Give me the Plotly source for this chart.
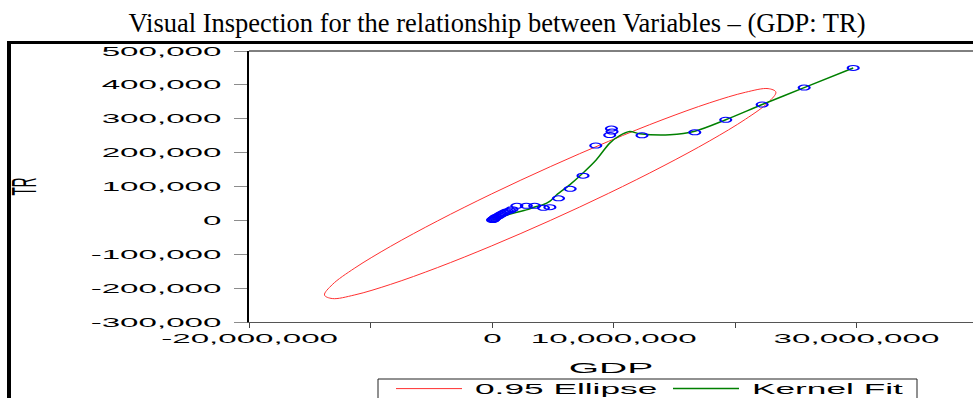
import plotly.graph_objects as go

# ---------------- data ----------------
gdp = [29.73e6, 25.69e6, 22.23e6, 19.23e6, 16.68e6, 12.33e6, 9.81e6, 9.86e6, 9.67e6,
       8.52e6, 7.47e6, 6.41e6, 5.45e6, 4.74e6, 4.21e6, 3.49e6, 2.80e6, 2.02e6,
       1.62e6, 1.45e6, 1.25e6, 1.10e6, 0.95e6, 0.80e6, 0.68e6, 0.55e6, 0.42e6,
       0.33e6, 0.25e6, 0.18e6, 0.12e6, 0.08e6, 0.05e6, 0.02e6]
tr = [450e3, 392e3, 342e3, 297e3, 260e3, 251e3, 271e3, 262e3, 252e3,
      221e3, 132e3, 93e3, 65e3, 39e3, 37e3, 43e3, 43e3, 43e3,
      33e3, 29e3, 27e3, 25e3, 22e3, 19e3, 17e3, 14e3, 11e3,
      10e3, 8e3, 6e3, 4e3, 3e3, 2e3, 1e3]

kernel_gdp = [0.02e6, 0.05e6, 1.70e6, 2.80e6, 3.63e6, 4.17e6, 4.72e6, 5.28e6, 6.37e6,
              7.47e6, 8.57e6, 9.67e6, 10.49e6, 11.32e6, 12.14e6, 14.63e6, 16.68e6,
              19.23e6, 22.23e6, 25.69e6, 29.73e6]
kernel_tr = [1e3, 1.5e3, 21e3, 31e3, 41e3, 46e3, 56e3, 75e3, 105e3,
             140e3, 179e3, 228e3, 250e3, 262e3, 256e3, 253e3, 263e3,
             297e3, 342e3, 392e3, 450e3]

# points read around the 0.95 ellipse outline (closed loop)
ellipse_gdp = [4.77e6, -0.05e6, -4.53e6, -8.38e6, -11.33e6, -13.19e6, -13.83e6, -13.19e6,
               -11.33e6, -8.38e6, -4.53e6, -0.05e6, 4.77e6, 9.58e6, 14.06e6, 17.91e6,
               20.86e6, 22.72e6, 23.36e6, 22.72e6, 20.86e6, 17.91e6, 14.06e6, 9.58e6, 4.77e6]
ellipse_tr = [-0.3e3, -75.2e3, -139.5e3, -188.9e3, -220.0e3, -230.8e3, -220.4e3, -189.7e3,
              -140.6e3, -76.6e3, -1.9e3, 78.3e3, 158.5e3, 233.4e3, 297.7e3, 347.1e3,
              378.2e3, 389.0e3, 378.6e3, 347.9e3, 298.8e3, 234.8e3, 160.1e3, 79.9e3, -0.3e3]

x_tickvals = [-20e6, -10e6, 0, 10e6, 20e6, 30e6]
x_ticktext = ["-20,000,000", "", "0", "10,000,000", "", "30,000,000"]
y_tickvals = [-300000, -200000, -100000, 0, 100000, 200000, 300000, 400000, 500000]
y_ticktext = ["-300,000", "-200,000", "-100,000", "0", "100,000", "200,000",
              "300,000", "400,000", "500,000"]

title_text = "Visual Inspection for the relationship between Variables \u2013 (GDP: TR)"

# ---------------- layout geometry (pixels) ----------------
W, H = 973, 398
L, R, T, B = 249, 0, 51, 76
PW, PH = W - L - R, H - T - B


def pxx(px):
    return (px - L) / PW


def pxy(py):
    return (H - B - py) / PH


SANS = "Liberation Sans, Arial, sans-serif"

fig = go.Figure()
fig.add_trace(go.Scatter(
    x=ellipse_gdp, y=ellipse_tr, mode="lines", name="0.95 Ellipse",
    line=dict(color="#ff3030", width=1, shape="spline", smoothing=1.0),
    hoverinfo="skip"))
fig.add_trace(go.Scatter(
    x=kernel_gdp, y=kernel_tr, mode="lines", name="Kernel Fit",
    line=dict(color="#008000", width=1.5, shape="spline", smoothing=0.8),
    hoverinfo="skip"))
fig.add_trace(go.Scatter(
    x=gdp, y=tr, mode="markers", name="GDP vs TR", showlegend=False,
    marker=dict(symbol="circle-open", size=5, color="#0000ff", line=dict(width=1))))

shapes = [
    # plot top border
    dict(type="line", xref="paper", yref="paper", x0=0, x1=1, y0=1, y1=1,
         line=dict(color="black", width=1)),
    # document frame: thick top rule and left rule
    dict(type="line", xref="paper", yref="paper", x0=pxx(7), x1=pxx(975),
         y0=pxy(42.5), y1=pxy(42.5), line=dict(color="black", width=3)),
    dict(type="line", xref="paper", yref="paper", x0=pxx(9), x1=pxx(9),
         y0=pxy(41), y1=pxy(420), line=dict(color="black", width=4)),
    # legend box
    dict(type="rect", xref="paper", yref="paper", x0=pxx(378), x1=pxx(917),
         y0=pxy(379), y1=pxy(420), line=dict(color="#222", width=1)),
]

fig.update_layout(
    width=W, height=H, autosize=False,
    margin=dict(l=L, r=R, t=T, b=B, pad=0, autoexpand=False),
    paper_bgcolor="white", plot_bgcolor="white",
    title=dict(text=title_text, x=497 / W, xanchor="center", xref="container",
               y=1 - 13.5 / H, yanchor="top", yref="container",
               font=dict(family="Liberation Serif, Times New Roman, serif", size=26.5, color="black")),
    showlegend=True,
    legend=dict(orientation="h", x=pxx(391), xanchor="left", y=pxy(373), yanchor="top",
                bgcolor="rgba(0,0,0,0)", borderwidth=0, itemwidth=66,
                entrywidth=196, entrywidthmode="pixels",
                font=dict(family=SANS, size=14, color="black")),
    shapes=shapes,
    xaxis=dict(range=[-20.05e6, 39.6e6], tickmode="array", tickvals=x_tickvals, ticktext=x_ticktext,
               showgrid=False, zeroline=False, showline=True, linecolor="#555", linewidth=1,
               ticks="outside", ticklen=5, tickcolor="#444", tickwidth=1,
               ticklabelstandoff=-1,
               tickfont=dict(family=SANS, size=13, color="black"),
               title=dict(text="GDP", font=dict(family=SANS, size=15, color="black"), standoff=17)),
    yaxis=dict(range=[-300000, 500000], tickmode="array", tickvals=y_tickvals, ticktext=y_ticktext,
               showgrid=False, zeroline=False, showline=True, linecolor="black", linewidth=2,
               ticks="outside", ticklen=13, tickcolor="#8c8c8c", tickwidth=1,
               ticklabelstandoff=10,
               tickfont=dict(family=SANS, size=13, color="black"),
               title=dict(text="TR", font=dict(family=SANS, size=13.5, color="black"), standoff=138)),
)

js = """
document.documentElement.style.margin = '0';
document.body.style.margin = '0';
document.body.style.padding = '0';
var gd = document.getElementById('{plot_id}');
function sx(el, s, ax, dx) {
  var t = el.getAttribute('transform') || '';
  el.setAttribute('transform', t + ' translate(' + (ax + (dx || 0)) + ',0) scale(' + s + ',1) translate(' + (-ax) + ',0)');
}
function ax(el) { return parseFloat(el.getAttribute('x')) || 0; }
gd.querySelectorAll('.xtick text').forEach(function(el) { sx(el, 2.55, ax(el)); });
gd.querySelectorAll('.ytick text').forEach(function(el) { sx(el, 2.55, ax(el)); });
gd.querySelectorAll('text.xtitle').forEach(function(el) { sx(el, 2.6, ax(el)); });
gd.querySelectorAll('text.legendtext').forEach(function(el) { sx(el, 2.52, ax(el), 8); });
gd.querySelectorAll('text.ytitle').forEach(function(el) {
  var b = el.getBBox();
  var cx = b.x + b.width / 2, cy = b.y + b.height / 2;
  var t = el.getAttribute('transform') || '';
  el.setAttribute('transform', t + ' translate(' + cx + ',' + cy + ') scale(1,2.6) translate(' + (-cx) + ',' + (-cy) + ')');
});
gd.querySelectorAll('.scatterlayer .points path').forEach(function(el) {
  var t = el.getAttribute('transform') || '';
  el.setAttribute('transform', t + ' scale(2.2,1)');
});
"""

fig.write_html("out.html", include_plotlyjs=True, full_html=True,
               config={"displayModeBar": False, "staticPlot": True}, post_script=js)
